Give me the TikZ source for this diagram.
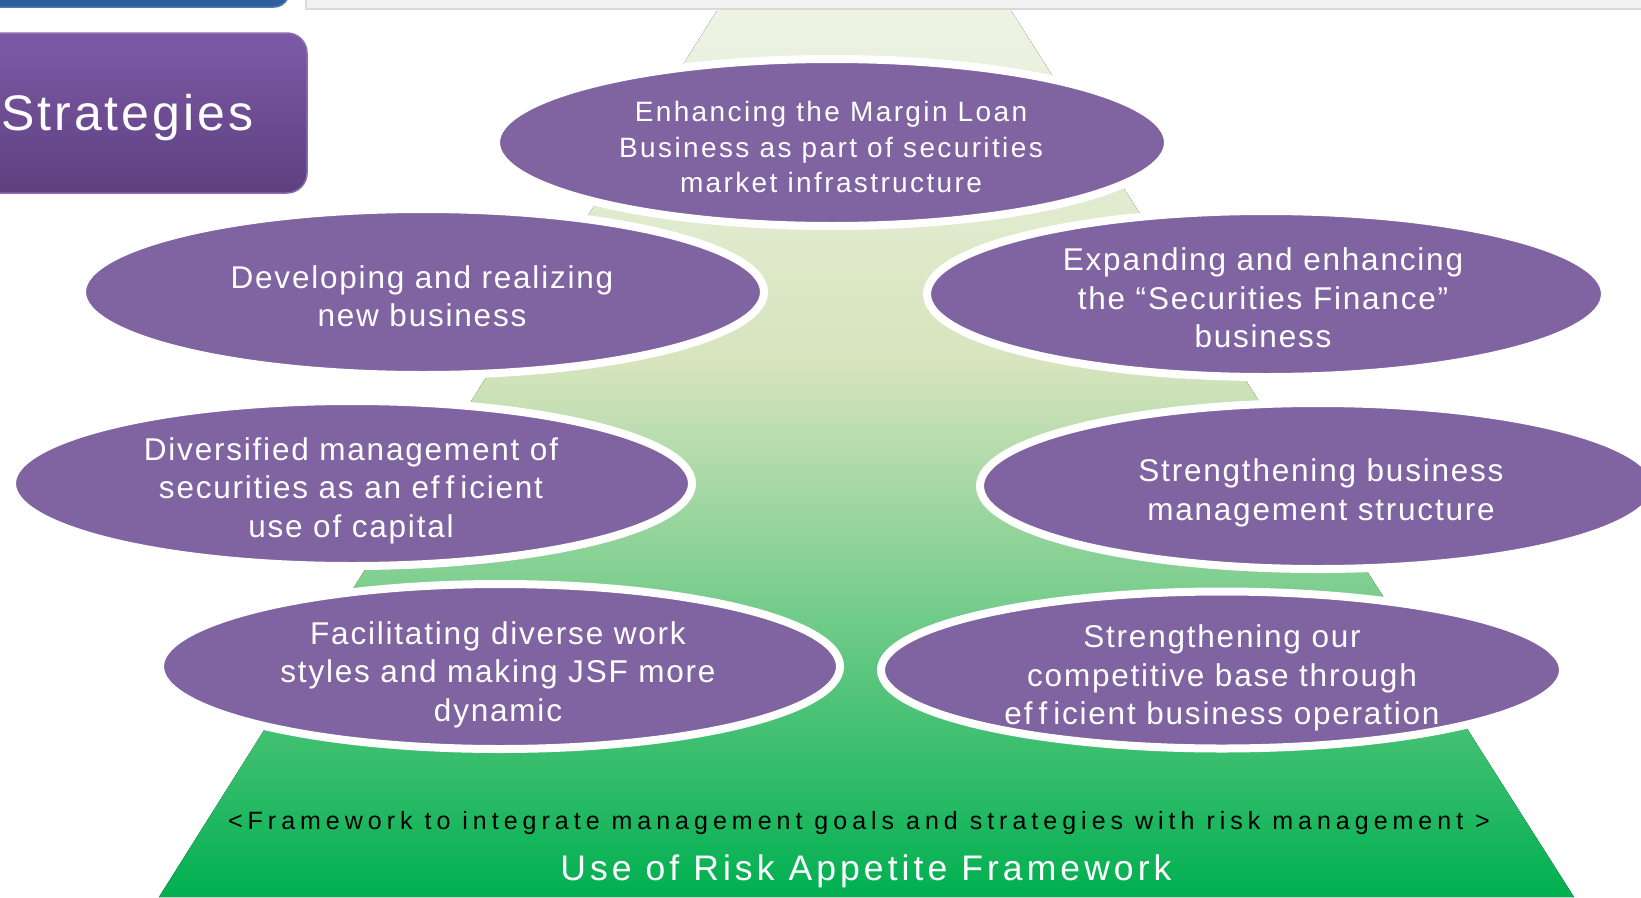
\documentclass[tikz,border=0pt]{standalone}
\usepackage{fontspec}
\setmainfont{Liberation Sans}
\newfontfamily\pillfont[LetterSpace=5.7,Ligatures=NoCommon]{Liberation Sans}
\newfontfamily\pillsmallfont[LetterSpace=8.5,Ligatures=NoCommon]{Liberation Sans}
\newfontfamily\notefont[LetterSpace=20,Ligatures=NoCommon]{Liberation Sans}
\newfontfamily\rafont[LetterSpace=11.5,Ligatures=NoCommon]{Liberation Sans}
\newfontfamily\tabfont[LetterSpace=6]{Liberation Sans}
\usetikzlibrary{shapes.geometric}

% "efficient" is set with loose f-spacing
\newcommand{\effword}{ef\kern6pt f\kern6pt icient}

\definecolor{pill}{HTML}{8064A2}
\definecolor{gB}{HTML}{00B050}
\definecolor{gM}{HTML}{D7E4BD}
\definecolor{gT}{HTML}{EEF3E4}
\definecolor{stratTop}{HTML}{7E5AA6}
\definecolor{stratBot}{HTML}{5E4080}
\definecolor{stratEdge}{HTML}{8A6CB0}
\definecolor{barBlue}{HTML}{2E5F99}
\definecolor{barBlueEdge}{HTML}{4A7BB5}
\definecolor{barGray}{HTML}{F2F2F2}
\definecolor{barGrayEdge}{HTML}{D9D9D9}

% green ramp: bottom (25bp) saturated, top (75bp) pale
\pgfdeclareverticalshading{greenramp}{100bp}{color(0bp)=(gB); color(25bp)=(gB); color(55bp)=(gM); color(75bp)=(gT); color(100bp)=(gT)}

\tikzset{
  pill/.style={ellipse, fill=pill, draw=white, line width=8pt, inner sep=0pt},
  % multi-line text: the base anchor sits on the last line's baseline
  pilltext/.style={text=white, align=center, anchor=base, inner sep=0pt,
    font=\pillfont\fontsize{31.5}{38.5}\selectfont},
  pilltextsmall/.style={pilltext,
    font=\pillsmallfont\fontsize{28}{35.5}\selectfont},
}

\begin{document}
\begin{tikzpicture}[x=1pt,y=-1pt]
\useasboundingbox (0,0) rectangle (1641,897);
\clip (0,0) rectangle (1641,897);

% pyramid backdrop
\fill[shading=greenramp] (718,9) -- (1010,9) -- (1574,897) -- (159,897) -- cycle;

% header strips
\draw[fill=barBlue, draw=barBlueEdge, line width=1.5pt, rounded corners=15pt] (-20,-40) rectangle (289,7);
\draw[fill=barGray, draw=barGrayEdge, line width=1.5pt] (306,-20) rectangle (1660,9);

% section tab
\draw[top color=stratTop, bottom color=stratBot, draw=stratEdge, line width=1.5pt, rounded corners=20pt] (-30,33) rectangle (307,193);
\node (strat) [anchor=base west, inner sep=0pt, text=white,
  font=\tabfont\fontsize{50}{60}\selectfont] at (1,130) {Strategies};

% strategy ellipses
\node (e1) [pill, minimum width=672pt, minimum height=167pt] at (832,142.5) {};
\node (e2) [pill, minimum width=682pt, minimum height=166pt] at (423,292) {};
\node (e3) [pill, minimum width=678pt, minimum height=166pt] at (1266,294) {};
\node (e4) [pill, minimum width=680pt, minimum height=165pt] at (352,483.5) {};
\node (e5) [pill, minimum width=676pt, minimum height=166pt] at (1318,486) {};
\node (e6) [pill, minimum width=680pt, minimum height=165pt] at (500,666.5) {};
\node (e7) [pill, minimum width=682pt, minimum height=157pt] at (1222,670) {};

\node (t1) [pilltextsmall] at (831,192.7) {Enhancing the Margin Loan\\Business as part of securities\\market infrastructure};
\node (t2) [pilltext] at (422,326.7) {Developing and realizing\\new business};
\node (t3) [pilltext] at (1263,347.5) {Expanding and enhancing\\the “Securities Finance”\\business};
\node (t4) [pilltext] at (351,537) {Diversified management of\\securities as an \effword\\use of capital};
\node (t5) [pilltext] at (1321,520) {Strengthening business\\management structure};
\node (t6) [pilltext] at (498,721) {Facilitating diverse work\\styles and making JSF more\\dynamic};
\node (t7) [pilltext] at (1222,724.5) {Strengthening our\\competitive base through\\\effword{} business operation};

% framework captions
\node (rafnote) [anchor=base, inner sep=0pt,
  font=\notefont\fontsize{25}{30}\selectfont] at (859,829) {<Framework to integrate management goals and strategies with risk management >};
\node (raf) [anchor=base, inner sep=0pt, text=white,
  font=\rafont\fontsize{35.5}{42}\selectfont] at (866,880) {Use of Risk Appetite Framework};
\end{tikzpicture}
\end{document}
